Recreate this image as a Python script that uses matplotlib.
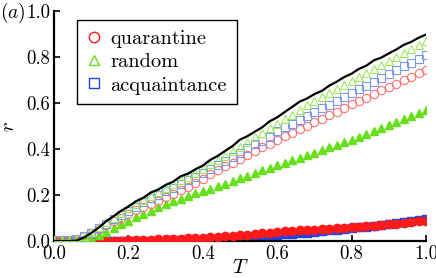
import matplotlib
matplotlib.use("Agg")
import matplotlib.pyplot as plt

T = [i / 50 for i in range(51)]

# giant-component size without immunization (black line)
r_none = [0.0, 0.0, 0.0, 0.002, 0.015, 0.035, 0.058, 0.086, 0.108, 0.131,
          0.15, 0.173, 0.188, 0.211, 0.224, 0.244, 0.258, 0.281, 0.293, 0.312,
          0.328, 0.353, 0.37, 0.392, 0.413, 0.441, 0.456, 0.476, 0.495, 0.521,
          0.538, 0.561, 0.583, 0.606, 0.62, 0.639, 0.653, 0.676, 0.693, 0.713,
          0.728, 0.749, 0.763, 0.786, 0.798, 0.816, 0.833, 0.853, 0.866, 0.884,
          0.898]

# open markers
quar_open = [0.005, 0.005, 0.006, 0.01, 0.02, 0.035, 0.052, 0.068, 0.085, 0.1,
             0.117, 0.133, 0.148, 0.162, 0.176, 0.19, 0.205, 0.22, 0.236, 0.252,
             0.268, 0.29, 0.309, 0.325, 0.341, 0.358, 0.374, 0.39, 0.407, 0.423,
             0.44, 0.456, 0.471, 0.486, 0.501, 0.517, 0.532, 0.547, 0.562, 0.578,
             0.594, 0.609, 0.624, 0.64, 0.655, 0.67, 0.685, 0.7, 0.715, 0.73,
             0.746]
rand_open = [0.005, 0.005, 0.006, 0.01, 0.022, 0.04, 0.06, 0.082, 0.102, 0.122,
             0.142, 0.16, 0.178, 0.196, 0.213, 0.23, 0.247, 0.264, 0.28, 0.297,
             0.315, 0.333, 0.352, 0.37, 0.39, 0.41, 0.43, 0.452, 0.472, 0.492,
             0.51, 0.53, 0.55, 0.57, 0.59, 0.607, 0.625, 0.643, 0.66, 0.678,
             0.696, 0.714, 0.732, 0.75, 0.767, 0.784, 0.801, 0.818, 0.836, 0.853,
             0.87]
acq_open = [0.005, 0.005, 0.006, 0.01, 0.02, 0.035, 0.055, 0.075, 0.095, 0.115,
            0.132, 0.15, 0.168, 0.185, 0.2, 0.216, 0.232, 0.248, 0.264, 0.28,
            0.296, 0.313, 0.33, 0.348, 0.366, 0.385, 0.403, 0.42, 0.437, 0.454,
            0.477, 0.494, 0.51, 0.527, 0.543, 0.56, 0.577, 0.593, 0.61, 0.626,
            0.643, 0.66, 0.676, 0.693, 0.71, 0.726, 0.743, 0.76, 0.776, 0.793,
            0.809]

# filled markers
quar_fill = [0.0, 0.0, 0.0, 0.0, 0.0, 0.0, 0.001, 0.001, 0.001, 0.002,
             0.003, 0.004, 0.005, 0.006, 0.007, 0.008, 0.009, 0.01, 0.012, 0.013,
             0.015, 0.017, 0.019, 0.021, 0.023, 0.025, 0.028, 0.031, 0.034, 0.037,
             0.04, 0.042, 0.044, 0.046, 0.048, 0.05, 0.052, 0.054, 0.056, 0.058,
             0.06, 0.062, 0.065, 0.067, 0.07, 0.073, 0.076, 0.079, 0.082, 0.085,
             0.087]
rand_fill = [0.0, 0.0, 0.0, 0.001, 0.005, 0.012, 0.025, 0.04, 0.055, 0.072,
             0.088, 0.103, 0.118, 0.132, 0.146, 0.16, 0.172, 0.184, 0.196, 0.208,
             0.218, 0.228, 0.238, 0.25, 0.262, 0.273, 0.284, 0.296, 0.307, 0.318,
             0.33, 0.341, 0.352, 0.363, 0.374, 0.385, 0.396, 0.407, 0.418, 0.429,
             0.44, 0.453, 0.466, 0.479, 0.492, 0.505, 0.518, 0.531, 0.544, 0.557,
             0.57]
acq_fill = [0.0, 0.0, 0.0, 0.0, 0.0, 0.0, 0.0, 0.0, 0.0, 0.001,
            0.001, 0.001, 0.001, 0.002, 0.002, 0.002, 0.003, 0.003, 0.003, 0.004,
            0.005, 0.006, 0.008, 0.009, 0.011, 0.014, 0.016, 0.018, 0.021, 0.023,
            0.026, 0.029, 0.032, 0.035, 0.037, 0.04, 0.043, 0.046, 0.049, 0.052,
            0.056, 0.06, 0.063, 0.067, 0.071, 0.075, 0.079, 0.083, 0.087, 0.092,
            0.096]

ticks = [0.0, 0.2, 0.4, 0.6, 0.8, 1.0]
tick_labels = ["0.0", "0.2", "0.4", "0.6", "0.8", "1.0"]

red, green, blue = "#ff1a1a", "#66e01a", "#1f45e6"

plt.rcParams["font.family"] = "serif"
plt.rcParams["font.serif"] = ["cmr10", "DejaVu Serif"]
plt.rcParams["mathtext.fontset"] = "cm"
plt.rcParams["axes.formatter.use_mathtext"] = True

fig = plt.figure(figsize=(4.36, 2.78), dpi=100)
ax = fig.add_axes([0.124, 0.133, 0.853, 0.827])

ms = 6
ax.plot(T, acq_fill, "s", color=blue, ms=5.5, mec=blue, zorder=2)
ax.plot(T, quar_fill, "o", color=red, ms=ms, mec=red, zorder=3)
ax.plot(T, rand_fill, "^", color=green, ms=ms, mec=green, zorder=3)

ax.plot(T, quar_open, "o", mfc="none", mec="#ff7070", ms=ms, mew=0.8, zorder=4)
ax.plot(T, acq_open, "s", mfc="none", mec="#7d98f0", ms=5.5, mew=0.8, zorder=4)
ax.plot(T, rand_open, "^", mfc="none", mec="#9ee860", ms=ms, mew=0.8, zorder=4)
ax.plot(T, r_none, "-", color="black", lw=1.6, zorder=5)

# legend handles use the pure colours
hq, = ax.plot([], [], "o", mfc="none", mec=red, ms=7.5, mew=1.0)
hr, = ax.plot([], [], "^", mfc="none", mec=green, ms=7.5, mew=1.0)
ha, = ax.plot([], [], "s", mfc="none", mec=blue, ms=7.5, mew=1.0)
leg = ax.legend([hq, hr, ha], ["quarantine", "random", "acquaintance"],
                loc="upper left", bbox_to_anchor=(0.062, 0.6, 0.43, 0.36),
                mode="expand", borderaxespad=0, fontsize=14.7, fancybox=False,
                edgecolor="black", framealpha=1, handlelength=0.8,
                handletextpad=0.37, labelspacing=0.25, borderpad=0.45)
leg.get_frame().set_linewidth(1.0)

ax.set_xlim(0, 1.0)
ax.set_ylim(0, 1.0)
ax.set_xticks(ticks)
ax.set_yticks(ticks)
ax.set_xticklabels(tick_labels)
ax.set_yticklabels(tick_labels)
ax.tick_params(direction="in", labelsize=13.5, width=1.2, length=4, pad=3)
for side in ["top", "right"]:
    ax.spines[side].set_visible(False)
for side in ["left", "bottom"]:
    ax.spines[side].set_linewidth(1.6)

ax.set_xlabel("$T$", fontsize=15, labelpad=-3)
ax.set_ylabel("$r$", fontsize=15, labelpad=6)
fig.text(0.0, 0.955, "$(a)$", fontsize=14, va="center", ha="left")

fig.savefig("out.png", dpi=100)
